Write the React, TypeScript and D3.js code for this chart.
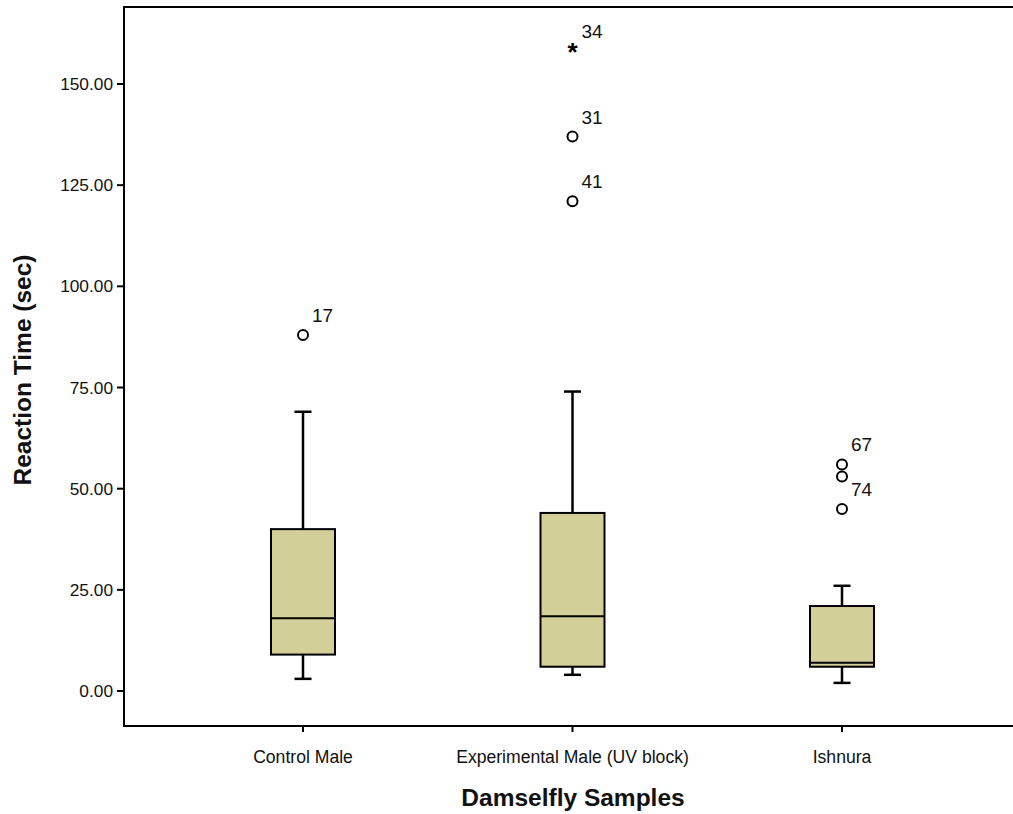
import React from "react";
import * as d3 from "d3";

const categories = ["Control Male", "Experimental Male (UV block)", "Ishnura"];
const whiskerLow = [3, 4, 2];
const q1 = [9, 6, 6];
const medians = [18, 18.5, 7];
const q3 = [40, 44, 21];
const whiskerHigh = [69, 74, 26];
const outlierCat = [0, 1, 1, 2, 2, 2];
const outlierVal = [88, 121, 137, 56, 53, 45];
const outlierLabel = ["17", "41", "31", "67", "", "74"];
const extremeCat = [1];
const extremeVal = [159];
const extremeLabel = ["34"];
const yTicks = [0, 25, 50, 75, 100, 125, 150];

const W = 1013;
const H = 814;
const left = 124;
const top = 7;
const bottom = 726;
const right = 1040;

export default function App() {
  const y = d3.scaleLinear().domain([0, 150]).range([691, 84]);
  const x = d3.scalePoint<string>().domain(categories).range([303, 842]);
  const boxW = 64;
  const capW = 17;
  const font = "'Liberation Sans', Arial, sans-serif";
  return (
    <svg width={W} height={H} style={{ position: "absolute", left: 0, top: 0, background: "#fff" }} fontFamily={font}>
      <rect x={left} y={top} width={right - left} height={bottom - top} fill="none" stroke="#000" strokeWidth={2} />
      {yTicks.map((t) => (
        <g key={t}>
          <line x1={left - 7} x2={left} y1={y(t)} y2={y(t)} stroke="#000" strokeWidth={2} />
          <text x={left - 11} y={y(t)} dy="0.35em" textAnchor="end" fontSize={17.3} fill="#111">
            {d3.format(".2f")(t)}
          </text>
        </g>
      ))}
      {categories.map((c) => (
        <g key={c}>
          <line x1={x(c)} x2={x(c)} y1={bottom} y2={bottom + 6} stroke="#000" strokeWidth={2} />
          <text x={x(c)} y={763} textAnchor="middle" fontSize={17.6} fill="#111">
            {c}
          </text>
        </g>
      ))}
      {categories.map((c, i) => {
        const cx = x(c)!;
        return (
          <g key={"b" + c}>
            <line x1={cx} x2={cx} y1={y(whiskerHigh[i])} y2={y(q3[i])} stroke="#000" strokeWidth={2.5} />
            <line x1={cx} x2={cx} y1={y(q1[i])} y2={y(whiskerLow[i])} stroke="#000" strokeWidth={2.5} />
            <line x1={cx - capW / 2} x2={cx + capW / 2} y1={y(whiskerHigh[i])} y2={y(whiskerHigh[i])} stroke="#000" strokeWidth={2.5} />
            <line x1={cx - capW / 2} x2={cx + capW / 2} y1={y(whiskerLow[i])} y2={y(whiskerLow[i])} stroke="#000" strokeWidth={2.5} />
            <rect x={cx - boxW / 2} y={y(q3[i])} width={boxW} height={y(q1[i]) - y(q3[i])} fill="#d3cf99" stroke="#000" strokeWidth={2} />
            <line x1={cx - boxW / 2} x2={cx + boxW / 2} y1={y(medians[i])} y2={y(medians[i])} stroke="#000" strokeWidth={2} />
          </g>
        );
      })}
      {outlierVal.map((v, i) => {
        const cx = x(categories[outlierCat[i]])!;
        return (
          <g key={"o" + i}>
            <circle cx={cx} cy={y(v)} r={5} fill="none" stroke="#000" strokeWidth={2} />
            {outlierLabel[i] && (
              <text x={cx + 9} y={y(v) - 13} fontSize={19} fill="#111">
                {outlierLabel[i]}
              </text>
            )}
          </g>
        );
      })}
      {extremeVal.map((v, i) => {
        const cx = x(categories[extremeCat[i]])!;
        return (
          <g key={"e" + i}>
            <text x={cx} y={y(v) + 13} textAnchor="middle" fontSize={26} fontWeight="bold">
              *
            </text>
            <text x={cx + 9} y={y(v) - 10} fontSize={19} fill="#111">
              {extremeLabel[i]}
            </text>
          </g>
        );
      })}
      <text x={573} y={806} textAnchor="middle" fontSize={24.5} fontWeight="bold" fill="#111">
        Damselfly Samples
      </text>
      <text transform={`translate(31,370) rotate(-90)`} textAnchor="middle" fontSize={24.5} fontWeight="bold" fill="#111">
        Reaction Time (sec)
      </text>
    </svg>
  );
}
